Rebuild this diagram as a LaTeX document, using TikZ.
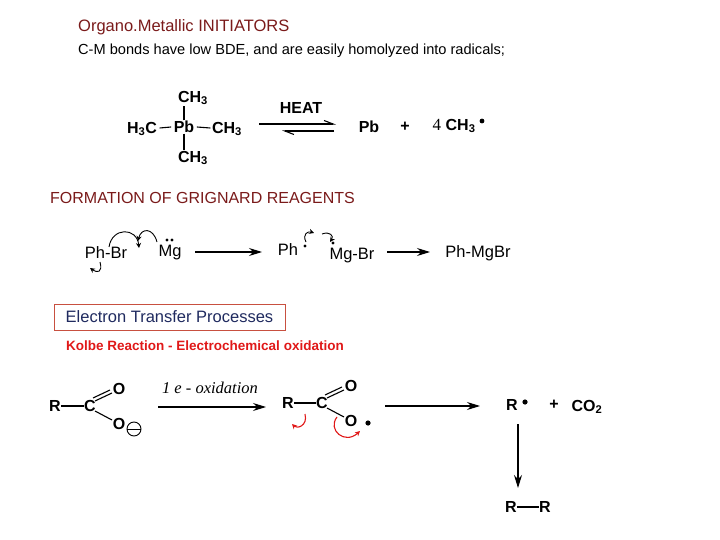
\documentclass[tikz,border=0pt]{standalone}
\usepackage{fontspec}
\setmainfont{Liberation Sans}
\newfontfamily\serifx{Liberation Serif}
\usetikzlibrary{arrows.meta,calc}
\definecolor{dred}{HTML}{7A1A1A}
\definecolor{kred}{HTML}{E01818}
\definecolor{dblue}{HTML}{1F2A5F}
\definecolor{boxred}{HTML}{C85040}
\newcommand{\sbs}[1]{\textsubscript{#1}}
\tikzset{
  t/.style={inner sep=0pt},
  chem/.style={inner sep=0.5pt,font=\bfseries\fontsize{16}{18}\selectfont},
  chemr/.style={inner sep=0.5pt,font=\fontsize{16.5}{18}\selectfont},
  bond/.style={line width=1.1pt},
  rxn/.style={line width=1.1pt,-{Stealth[length=13pt,width=8pt]}},
  curl/.style={line width=0.9pt,-{Stealth[length=5pt,width=5pt]}},
  rcurl/.style={line width=1.1pt,kred,-{Stealth[length=5pt,width=5pt]}},
}
\begin{document}
\begin{tikzpicture}[x=1pt,y=-1pt]
\useasboundingbox (0,0) rectangle (720,540);
% headings
\node[t,anchor=west,text=dred,font=\fontsize{16.5}{18}\selectfont] (title) at (78,27) {Organo.Metallic INITIATORS};
\node[t,anchor=west,font=\fontsize{14.6}{16}\selectfont] (sub) at (78,51) {C-M bonds have low BDE, and are easily homolyzed into radicals;};
% Pb(CH3)4
\node[chem] (pb) at (184,127) {Pb};
\node[chem] (ct) at (193,98) {CH\sbs{3}};
\node[chem] (cb) at (193,158) {CH\sbs{3}};
\node[chem] (cl) at (142,129) {H\sbs{3}C};
\node[chem] (cr) at (227,129) {CH\sbs{3}};
\draw[bond] ($(cl.east)+(2,-1)$) -- ($(pb.west)+(-2,0)$);
\draw[bond] ($(pb.east)+(2,0)$) -- ($(cr.west)+(-1,-1)$);
\draw[bond] (pb.north) -- (ct.south -| pb.north);
\draw[bond] (pb.south) -- (cb.north -| pb.south);
\coordinate (e1) at (259,124); \coordinate (e2) at (336,124);
\coordinate (e3) at (334,131); \coordinate (e4) at (282,131);
\draw[line width=1.1pt,-{Straight Barb[left,length=9pt,width=7pt]}] (e1) -- (e2);
\draw[line width=1.1pt,-{Straight Barb[left,length=9pt,width=7pt]}] (e3) -- (e4);
\node[chem] (heat) at (301,108) {HEAT};
\node[chem] (pb2) at (369,127) {Pb};
\node[chem] (plus1) at (405,127) {+};
\node[chem,anchor=west] (me) at (432,126) {{\serifx\mdseries\fontsize{17}{18}\selectfont 4} CH\sbs{3}};
\fill (482,121) circle (2.4);
% Grignard
\node[t,anchor=west,text=dred,font=\fontsize{16}{18}\selectfont] (form) at (50,198) {FORMATION OF GRIGNARD REAGENTS};
\node[chemr] (phbr) at (106,253) {Ph-Br};
\node[chemr] (mg) at (170,253) {Mg};
\fill (167,240) circle (1.6) (172,240) circle (1.6);
\draw[curl] (100,262) .. controls (103,273) and (97,273) .. (90,268);
\draw[curl] (109,247) .. controls (112,227) and (137,227) .. (139,248);
\draw[curl] (157,242) .. controls (153,227) and (141,228) .. (138,241);
\coordinate (a1s) at (195,252); \coordinate (a1e) at (262,252);
\draw[rxn] (a1s) -- (a1e);
\node[chemr] (ph) at (288,250) {Ph};
\fill (305,246) circle (1.6);
\node[chemr] (mgbr) at (352,256) {Mg-Br};
\fill (333,243) circle (1.6);
\draw[curl] (306,242) .. controls (302,234) and (308,231) .. (314,233);
\draw[curl] (322,234) .. controls (330,231) and (334,236) .. (330,242);
\coordinate (a2s) at (387,252); \coordinate (a2e) at (430,252);
\draw[rxn] (a2s) -- (a2e);
\node[chemr] (phmgbr) at (478,253) {Ph-MgBr};
% Electron transfer box
\node[draw=boxred,line width=0.8pt,text=dblue,minimum width=231pt,minimum height=26pt,inner sep=0pt,font=\fontsize{16.5}{18}\selectfont] (etp) at (169.5,317) {Electron Transfer Processes};
\node[t,anchor=west,text=kred,font=\bfseries\fontsize{13.5}{15}\selectfont] (kolbe) at (66,346) {Kolbe Reaction - Electrochemical oxidation};
% carboxylate
\node[chem] (r1) at (55,406) {R};
\node[chem] (c1) at (90,406) {C};
\node[chem] (o1) at (119,389) {O};
\node[chem] (o2) at (119,424) {O};
\node[circle,draw,line width=0.9pt,inner sep=0pt,minimum size=14pt] (neg) at (134,429) {};
\draw[line width=0.9pt] (neg.west) -- (neg.east);
\draw[bond] (r1.east) -- (c1.west);
\draw[bond] ($(c1)+(5,-5)$) -- ($(o1)+(-7,4)$);
\draw[bond] ($(c1)+(3,-8)$) -- ($(o1)+(-9,1)$);
\draw[bond] ($(c1)+(5,5)$) -- ($(o2)+(-7,-4)$);
\coordinate (k1s) at (158,407); \coordinate (k1e) at (266,407);
\draw[rxn] (k1s) -- (k1e);
\node[inner sep=0pt,font=\serifx\itshape\fontsize{16.5}{18}\selectfont] (ox) at (210,388) {1 e - oxidation};
% radical carboxyl
\node[chem] (r2) at (288,403) {R};
\node[chem] (c2) at (322,403) {C};
\node[chem] (o3) at (351,386) {O};
\node[chem] (o4) at (351,421) {O};
\fill (368,423) circle (2.6);
\draw[bond] (r2.east) -- (c2.west);
\draw[bond] ($(c2)+(5,-5)$) -- ($(o3)+(-7,4)$);
\draw[bond] ($(c2)+(3,-8)$) -- ($(o3)+(-9,1)$);
\draw[bond] ($(c2)+(5,5)$) -- ($(o4)+(-7,-4)$);
\draw[rcurl] (305,414) .. controls (308,426) and (297,429) .. (292,424);
\draw[rcurl] (337,417) .. controls (327,430) and (345,445) .. (360,431);
\coordinate (k2s) at (385,406); \coordinate (k2e) at (480,406);
\draw[rxn] (k2s) -- (k2e);
\node[chem] (r3) at (512,405) {R};
\fill (525,402) circle (2.6);
\node[chem] (plus2) at (554,405) {+};
\node[chem] (co2) at (587,407) {CO\sbs{2}};
\coordinate (vs) at (518,424); \coordinate (ve) at (518,488);
\draw[rxn] (vs) -- (ve);
\node[chem] (r4) at (511,507) {R};
\node[chem] (r5) at (545,507) {R};
\draw[bond] (r4.east) -- (r5.west);
\end{tikzpicture}
\end{document}
